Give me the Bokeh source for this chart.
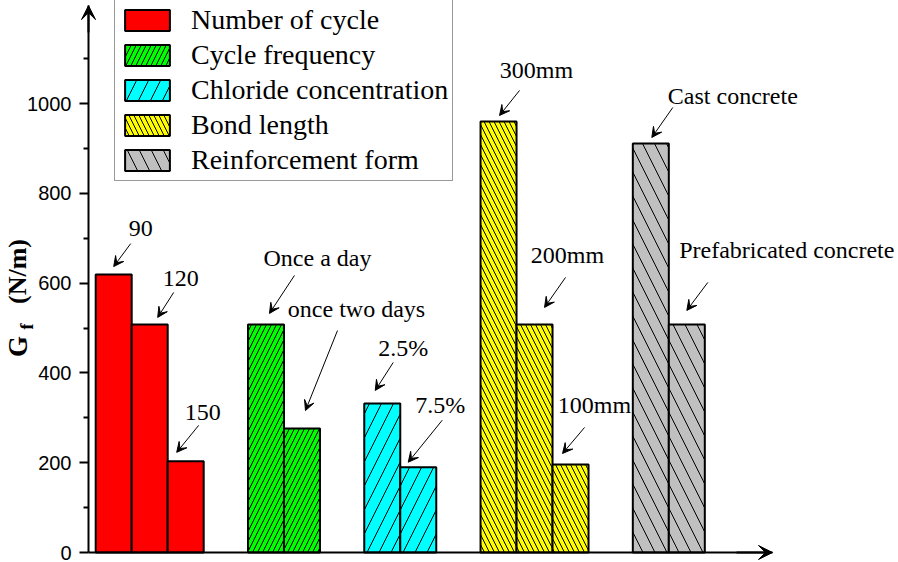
import math
from bokeh.plotting import figure
from bokeh.models import (Range1d, FixedTicker, Label, Arrow, VeeHead,
                          Legend, LegendItem)
from bokeh.embed import file_html
from bokeh.resources import INLINE

# ---------------- data ----------------
groups = ["Number of cycle", "Cycle frequency", "Chloride concentration",
          "Bond length", "Reinforcement form"]
number_of_cycle = [619, 508, 203]
number_of_cycle_labels = ["90", "120", "150"]
cycle_frequency = [508, 276]
cycle_frequency_labels = ["Once a day", "once two days"]
chloride_concentration = [332, 190]
chloride_concentration_labels = ["2.5%", "7.5%"]
bond_length = [960, 508, 196]
bond_length_labels = ["300mm", "200mm", "100mm"]
reinforcement_form = [911, 508]
reinforcement_form_labels = ["Cast concrete", "Prefabricated concrete"]
y_ticks = [0, 200, 400, 600, 800, 1000]
y_minor_ticks = [100, 300, 500, 700, 900, 1100]

series = [number_of_cycle, cycle_frequency, chloride_concentration,
          bond_length, reinforcement_form]
series_labels = [number_of_cycle_labels, cycle_frequency_labels,
                 chloride_concentration_labels, bond_length_labels,
                 reinforcement_form_labels]

# ---------------- styles ----------------
fills = ["#FF0000", "#00FF00", "#00FFFF", "#FFFF00", "#C0C0C0"]
hatches = [None, "/", "/", "\\", "\\"]
hatch_scales = [12, 10, 24, 10, 24]

# annotation offsets in px relative to bar top-centre:
# (tip dx, tip dy, tail dx, tail dy, text dx, text dy)
offsets = [
    [(0, -8, 17, -31, 27, -46), (8, -7, 24, -32, 31, -46), (-9, -9, 13, -36, 17, -49)],
    [(3.5, -11, 28.5, -49, 51.5, -66), (3.5, -18, 35.5, -98, 54.5, -120)],
    [(-7, -13, 11, -41, 21, -55), (-10, -5, 24, -47, 22, -62)],
    [(1, -6, 21, -31, 38, -51), (10, -17, 31, -47, 33, -69), (-8, -11, 14, -37, 24, -59)],
    [(1, -6, 22, -36, 82, -47), (0, -14, 21, -42, 100, -74)],
]

W, H = 898, 562
AX_X, AX_Y = 88, 552   # pixel position of the axes origin
PX_Y = 0.449           # px per data unit on y
BAR_PX = 36.0          # px per bar width (x unit)
first_left = 0.2
group_gap = 1.23
x_axis_end = 19.0
y_axis_end = 1218

p = figure(width=W, height=H,
           x_range=Range1d(-AX_X / BAR_PX, (W - AX_X) / BAR_PX),
           y_range=Range1d(-(H - AX_Y) / PX_Y, AX_Y / PX_Y),
           output_backend="svg", toolbar_location=None,
           min_border_left=0, min_border_right=0, min_border_top=0,
           min_border_bottom=0)
p.xgrid.visible = False
p.ygrid.visible = False
p.outline_line_color = None
p.background_fill_color = "white"
p.border_fill_color = "white"

serif = "Liberation Serif"

items = []
left = first_left
for gi, vals in enumerate(series):
    centers = [left + 0.5 + i for i in range(len(vals))]
    kw = dict(x=centers, top=vals, width=1.0, fill_color=fills[gi],
              line_color="black", line_width=2)
    if hatches[gi]:
        kw.update(hatch_pattern=hatches[gi], hatch_scale=hatch_scales[gi],
                  hatch_color="black", hatch_weight=1)
    r = p.vbar(**kw)
    items.append(LegendItem(label=groups[gi], renderers=[r]))
    for i, (cx, top) in enumerate(zip(centers, vals)):
        tdx, tdy, sdx, sdy, xdx, xdy = offsets[gi][i]
        p.add_layout(Arrow(end=VeeHead(size=10, fill_color="black", line_color="black", line_width=1),
                           x_start=cx + sdx / BAR_PX, y_start=top - sdy / PX_Y,
                           x_end=cx + tdx / BAR_PX, y_end=top - tdy / PX_Y,
                           line_color="black", line_width=1))
        p.add_layout(Label(x=cx + xdx / BAR_PX, y=top - xdy / PX_Y,
                           text=series_labels[gi][i], text_font=serif,
                           text_font_size="24px", text_align="center",
                           text_baseline="middle", text_color="black"))
    left += len(vals) + group_gap

legend = Legend(items=items, location=(114, H - 181),
                label_text_font=serif, label_text_font_size="28px",
                label_text_color="black",
                glyph_width=56, glyph_height=26, label_height=26,
                label_standoff=16, spacing=3, padding=4, margin=0,
                border_line_color="#333333", border_line_width=1,
                background_fill_alpha=1.0)
p.add_layout(legend)

# y axis
ya = p.yaxis[0]
ya.fixed_location = 0
ya.ticker = FixedTicker(ticks=y_ticks, minor_ticks=y_minor_ticks)
ya.bounds = (0, y_axis_end)
ya.axis_line_width = 2
ya.major_tick_line_width = 2
ya.minor_tick_line_width = 2
ya.major_tick_in = 0
ya.major_tick_out = 9
ya.minor_tick_in = 0
ya.minor_tick_out = 5
ya.major_label_standoff = 8
ya.major_label_text_font = "Liberation Sans"
ya.major_label_text_font_size = "20px"
ya.major_label_text_color = "black"

# x axis (line only)
xa = p.xaxis[0]
xa.fixed_location = 0
xa.ticker = FixedTicker(ticks=[])
xa.bounds = (0, x_axis_end)
xa.axis_line_width = 2
xa.major_tick_out = 0
xa.major_tick_in = 0
xa.minor_tick_out = 0
xa.minor_tick_in = 0
xa.major_label_text_font_size = "0px"

# axis arrow heads
p.add_layout(Arrow(end=VeeHead(size=14, fill_color="black", line_color="black"),
                   x_start=0, y_start=y_axis_end - 60, x_end=0, y_end=y_axis_end,
                   line_color="black", line_width=2))
p.add_layout(Arrow(end=VeeHead(size=14, fill_color="black", line_color="black"),
                   x_start=x_axis_end - 1, y_start=0, x_end=x_axis_end, y_end=0,
                   line_color="black", line_width=2))

# y axis title: G_f (N/m)
p.add_layout(Label(x=(17 - AX_X) / BAR_PX, y=(AX_Y - 346) / PX_Y, text="G",
                   angle=math.pi / 2, text_font=serif, text_font_style="bold",
                   text_font_size="27px", text_align="center", text_baseline="middle",
                   text_color="black"))
p.add_layout(Label(x=(26 - AX_X) / BAR_PX, y=(AX_Y - 326) / PX_Y, text="f",
                   angle=math.pi / 2, text_font=serif, text_font_style="bold",
                   text_font_size="18px", text_align="center", text_baseline="middle",
                   text_color="black"))
p.add_layout(Label(x=(17 - AX_X) / BAR_PX, y=(AX_Y - 271) / PX_Y, text="(N/m)",
                   angle=math.pi / 2, text_font=serif, text_font_style="bold",
                   text_font_size="26px", text_align="center", text_baseline="middle",
                   text_color="black"))

open("out.html", "w").write(file_html(p, INLINE))
